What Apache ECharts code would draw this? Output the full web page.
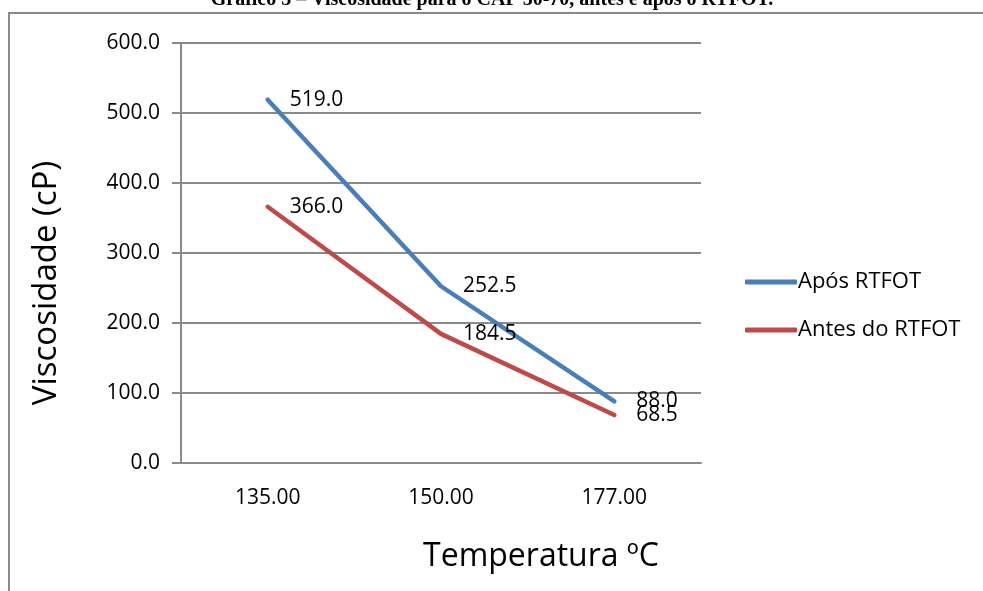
<!DOCTYPE html>
<html>
<head>
<meta charset="utf-8">
<script src="https://cdn.jsdelivr.net/npm/echarts@6/dist/echarts.min.js"></script>
<style>
  html, body { margin: 0; padding: 0; background: #fff; }
  #chart { width: 983px; height: 591px; }
</style>
</head>
<body>
<div id="chart"></div>
<script>
// dados
var temperaturas = ['135.00', '150.00', '177.00'];
var aposRtfot = [519.0, 252.5, 88.0];
var antesRtfot = [366.0, 184.5, 68.5];
var yTicks = [0, 100, 200, 300, 400, 500, 600];

var fonte = '"Open Sans", "Noto Sans", sans-serif';

function rotulo(params) {
  return params.value.toFixed(1);
}

var option = {
  animation: false,
  backgroundColor: '#fff',
  textStyle: { fontFamily: fonte },
  graphic: [
    {
      type: 'rect',
      shape: { x: 9, y: 13, width: 1100, height: 700 },
      style: { fill: 'none', stroke: '#8a8a8a', lineWidth: 2 },
      silent: true,
    },
    {
      type: 'text',
      x: 492,
      y: 10,
      style: {
        text: 'Gráfico 3 – Viscosidade para o CAP 50-70, antes e após o RTFOT.',
        font: 'bold 20px "Liberation Serif", "DejaVu Serif", serif',
        fill: '#000',
        align: 'center',
        verticalAlign: 'bottom',
      },
      silent: true,
    },
  ],
  grid: {
    left: 181,
    top: 43,
    width: 520,
    height: 420,
  },
  legend: {
    orient: 'vertical',
    left: 740,
    top: 266,
    itemWidth: 52,
    itemHeight: 5,
    itemGap: 26,
    icon: 'roundRect',
    textStyle: { fontSize: 22, color: '#000', fontFamily: fonte, padding: [0, 0, 0, -4] },
    data: ['Após RTFOT', 'Antes do RTFOT'],
  },
  xAxis: {
    type: 'category',
    data: temperaturas,
    boundaryGap: true,
    name: 'Temperatura ºC',
    nameLocation: 'middle',
    nameGap: 78,
    nameTextStyle: { fontSize: 32, color: '#000', padding: [0, 0, 0, 200] },
    axisLine: { lineStyle: { color: '#8a8a8a', width: 2 } },
    axisTick: { show: false },
    axisLabel: { fontSize: 21, color: '#000', margin: 25 },
  },
  yAxis: {
    type: 'value',
    min: yTicks[0],
    max: yTicks[yTicks.length - 1],
    interval: 100,
    name: 'Viscosidade (cP)',
    nameLocation: 'middle',
    nameGap: 118,
    nameTextStyle: { fontSize: 33, color: '#000', padding: [0, 60, 0, 0] },
    axisLine: { show: true, lineStyle: { color: '#8a8a8a', width: 2 } },
    axisTick: { show: true, length: 9, lineStyle: { color: '#8a8a8a', width: 2 } },
    axisLabel: {
      fontSize: 21,
      color: '#000',
      margin: 21,
      formatter: function (v) { return v.toFixed(1); },
    },
    splitLine: { lineStyle: { color: '#8a8a8a', width: 2 } },
  },
  series: [
    {
      name: 'Após RTFOT',
      type: 'line',
      data: aposRtfot,
      color: '#4A7EBB',
      symbol: 'circle',
      symbolSize: 0,
      showAllSymbol: true,
      lineStyle: { width: 4.5, cap: 'round' },
      label: {
        show: true,
        position: 'right',
        distance: 22,
        fontSize: 21,
        color: '#000',
        formatter: rotulo,
      },
    },
    {
      name: 'Antes do RTFOT',
      type: 'line',
      data: antesRtfot,
      color: '#BE4B48',
      symbol: 'circle',
      symbolSize: 0,
      showAllSymbol: true,
      lineStyle: { width: 4.5, cap: 'round' },
      label: {
        show: true,
        position: 'right',
        distance: 22,
        fontSize: 21,
        color: '#000',
        formatter: rotulo,
      },
    },
  ],
};

var chart = echarts.init(document.getElementById('chart'));
chart.setOption(option);
</script>
</body>
</html>
